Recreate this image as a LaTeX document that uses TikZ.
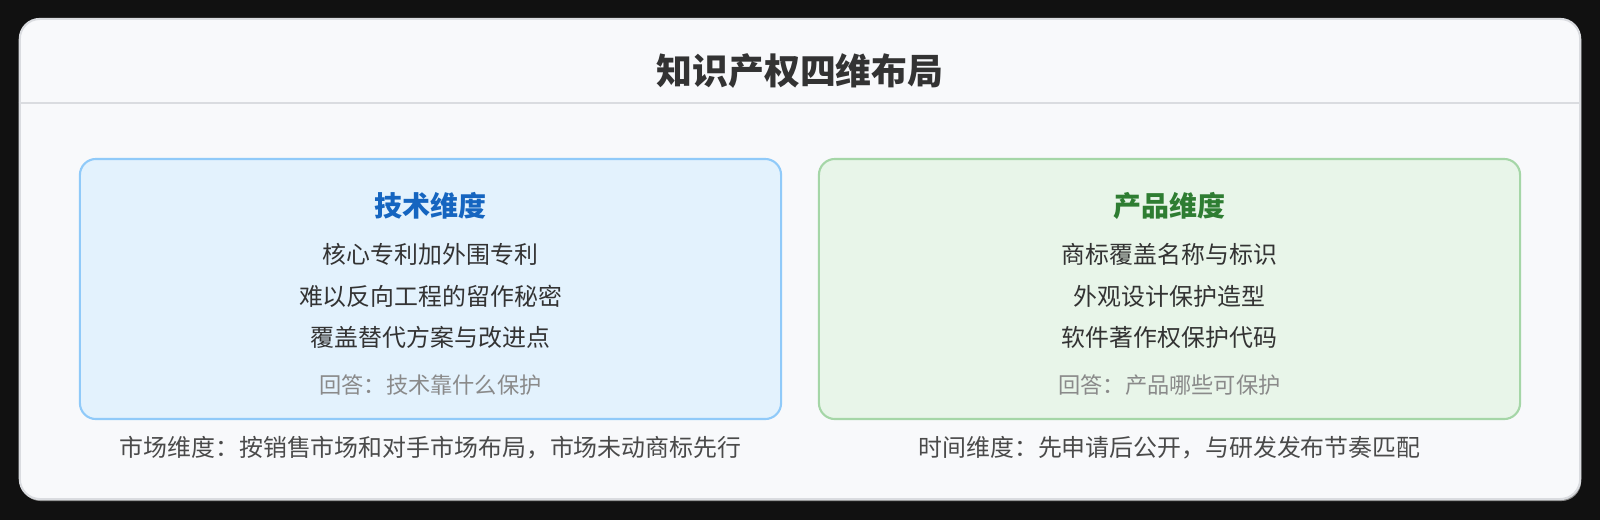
\documentclass[tikz,border=0pt]{standalone}
\usepackage{fontspec}
\setmainfont{Noto Sans CJK SC}
\usetikzlibrary{positioning}
\definecolor{night}{HTML}{111111}
\definecolor{cardbg}{HTML}{F8F9FB}
\definecolor{cardline}{HTML}{DADCE0}
\definecolor{techfill}{HTML}{E3F2FD}
\definecolor{techline}{HTML}{90CAF9}
\definecolor{techink}{HTML}{1565C0}
\definecolor{prodfill}{HTML}{E8F5E9}
\definecolor{prodline}{HTML}{A5D6A7}
\definecolor{prodink}{HTML}{2E7D32}
\definecolor{bodyink}{HTML}{333333}
\definecolor{noteink}{HTML}{8A8A8A}
\definecolor{footink}{HTML}{4A4A4A}

\begin{document}
\begin{tikzpicture}[x=0.025cm,y=-0.025cm]
\tikzstyle{card}=[rectangle,draw=cardline,line width=1.5pt,fill=cardbg,rounded corners=0.5cm,minimum width=39cm,minimum height=12cm,inner sep=0pt]
\tikzstyle{dimbox}=[rectangle,line width=1.5pt,rounded corners=0.4cm,minimum width=17.525cm,minimum height=6.5cm,inner sep=0pt]
\tikzstyle{headline}=[font=\fontsize{25.5pt}{30pt}\selectfont\bfseries,text=bodyink]
\tikzstyle{boxhead}=[font=\fontsize{19.9pt}{24pt}\selectfont\bfseries]
\tikzstyle{item}=[font=\fontsize{17pt}{20pt}\selectfont,text=bodyink]
\tikzstyle{note}=[font=\fontsize{15.8pt}{19pt}\selectfont,text=noteink]
\tikzstyle{foot}=[font=\fontsize{17pt}{20pt}\selectfont,text=footink]
\fill[night] (0,0) rectangle (1600,520);
\useasboundingbox (0,0) rectangle (1600,520);
% card with shadow
\node [card,draw=none,fill=black!45] (shadow) at (801,261) {};
\node [card] (card) at (800,259) {};
\node [headline] (title) at (800,71) {知识产权四维布局};
\draw [cardline,line width=1.5pt] (card.west |- 0,103) -- (card.east |- 0,103);
% two boxes
\node [dimbox,draw=techline,fill=techfill] (tech) at (430.5,289) {};
\node [dimbox,draw=prodline,fill=prodfill] (prod) at (1169.5,289) {};
\node [boxhead,text=techink] (techhead) at (430.5,206) {技术维度};
\node [item] (tech1) at (430.5,254) {核心专利加外围专利};
\node [item] (tech2) at (430.5,296) {难以反向工程的留作秘密};
\node [item] (tech3) at (430.5,337) {覆盖替代方案与改进点};
\node [note] (technote) at (430.5,385) {回答：技术靠什么保护};
\node [boxhead,text=prodink] (prodhead) at (1169.5,206) {产品维度};
\node [item] (prod1) at (1169.5,254) {商标覆盖名称与标识};
\node [item] (prod2) at (1169.5,296) {外观设计保护造型};
\node [item] (prod3) at (1169.5,337) {软件著作权保护代码};
\node [note] (prodnote) at (1169.5,385) {回答：产品哪些可保护};
% footers
\node [foot] (market) at (430.5,448) {市场维度：按销售市场和对手市场布局，市场未动商标先行};
\node [foot] (timing) at (1169.5,448) {时间维度：先申请后公开，与研发发布节奏匹配};
\end{tikzpicture}
\end{document}
